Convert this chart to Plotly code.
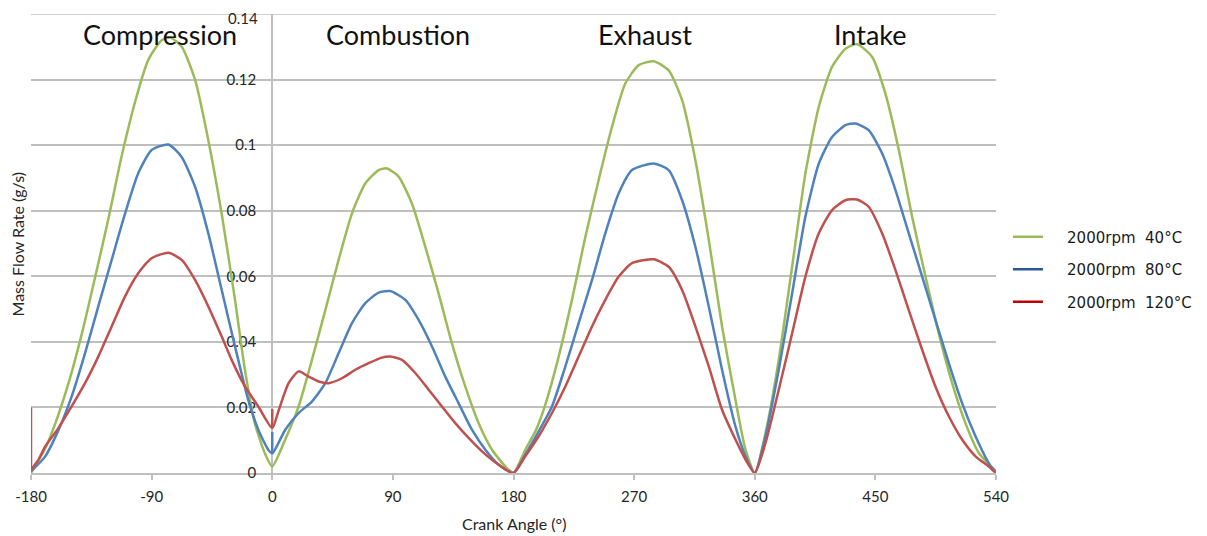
import plotly.graph_objects as go

# ---------------- data ----------------
angle_40 = [-180, -170, -162, -152, -142, -132, -122, -112.5, -102, -92.5, -82.5, -76, -67.5, -57.5, -47.7,
            -37.7, -27.8, -20.4, -13, -5.5, 0,
            9.7, 19.7, 29.6, 39.6, 49.5, 59.5, 69.4, 79.4, 85.6, 94.3, 104.2, 114.2, 124.1, 134, 144, 154,
            164, 173.9, 180,
            188.8, 196.3, 203.7, 213.7, 223.6, 233.6, 243.5, 253.5, 263.4, 273.4, 284.6, 295.8, 305.8,
            315.7, 325.7, 335.6, 345.6, 353.1, 360,
            368, 377.9, 387.9, 397.8, 407.8, 417.7, 427.7, 436.4, 447.6, 457.5, 467.5, 477.4, 487.4, 497.3,
            507.3, 517.2, 527.2, 540]
flow_40 = [0.0, 0.007, 0.015, 0.0274, 0.0426, 0.060, 0.078, 0.0964, 0.1137, 0.126, 0.132, 0.1328, 0.130,
           0.1198, 0.1015, 0.079, 0.0528, 0.0315, 0.0152, 0.006, 0.002,
           0.0102, 0.0203, 0.0345, 0.0497, 0.065, 0.0792, 0.0883, 0.0924, 0.0929, 0.0904, 0.0822, 0.069,
           0.0548, 0.0396, 0.0264, 0.0152, 0.0071, 0.002, 0.0,
           0.0071, 0.0127, 0.0208, 0.0355, 0.0528, 0.072, 0.0893, 0.1056, 0.1188, 0.1244, 0.1256, 0.1228,
           0.1137, 0.0954, 0.0711, 0.0447, 0.0223, 0.0071, 0.0,
           0.0122, 0.0345, 0.063, 0.0914, 0.1117, 0.1239, 0.1294, 0.1308, 0.1269, 0.1157, 0.0985, 0.0782,
           0.0599, 0.0426, 0.0274, 0.0152, 0.0061, 0.0005]

angle_80 = [-180, -169.5, -159.6, -149.7, -139.7, -129.8, -119.8, -109.9, -100, -90, -77.5, -67.6, -57.6,
            -47.7, -37.7, -27.8, -17.9, -10.4, -3, 0,
            9.7, 19.7, 29.6, 39.6, 49.5, 59.5, 69.4, 79.4, 88, 99.3, 109.2, 119.2, 129.1, 139, 149, 159,
            169, 180,
            188.8, 198.8, 208.7, 218.7, 228.6, 238.6, 248.5, 258.5, 268.4, 284.6, 295.8, 305.8, 315.7,
            325.7, 335.6, 345.6, 353.1, 360,
            368, 377.9, 387.9, 397.8, 407.8, 417.7, 427.7, 435.1, 445, 455, 465, 474.9, 484.9, 494.8,
            504.8, 514.7, 524.7, 534.6, 540]
flow_80 = [0.0005, 0.005, 0.013, 0.0233, 0.0365, 0.0508, 0.065, 0.079, 0.0914, 0.0985, 0.1002, 0.0964,
           0.0873, 0.0731, 0.0558, 0.0386, 0.0223, 0.0132, 0.0071, 0.006,
           0.0132, 0.0183, 0.0218, 0.0274, 0.0365, 0.0457, 0.0518, 0.055, 0.0555, 0.0528, 0.0467, 0.0386,
           0.0294, 0.0213, 0.0132, 0.0071, 0.0025, 0.0,
           0.0056, 0.0127, 0.0203, 0.0325, 0.0457, 0.0589, 0.0731, 0.0853, 0.0924, 0.0944, 0.0924, 0.0832,
           0.069, 0.0508, 0.0315, 0.0142, 0.0051, 0.0,
           0.0112, 0.0315, 0.0548, 0.0782, 0.0944, 0.1025, 0.1061, 0.1066, 0.1046, 0.0975, 0.0863, 0.0731,
           0.0599, 0.0467, 0.0335, 0.0213, 0.0112, 0.003, 0.0]

angle_120 = [-180, -174.5, -169.5, -159.6, -149.7, -139.7, -129.8, -119.8, -109.9, -100, -90, -77.5,
             -67.6, -57.6, -47.7, -37.7, -30.3, -20.4, -10.4, 0,
             4.7, 12.2, 19.7, 27.1, 34.6, 42, 52, 62, 71.9, 81.8, 88, 96.8, 106.7, 116.7, 126.6, 136.6,
             146.5, 156.5, 169, 180,
             188.8, 198.8, 208.7, 218.7, 228.6, 238.6, 248.5, 258.5, 268.4, 284.6, 295.8, 305.8, 315.7,
             325.7, 335.6, 345.6, 353.1, 360,
             368, 377.9, 387.9, 397.8, 407.8, 417.7, 427.7, 436.4, 445, 455, 465, 474.9, 484.9, 494.8,
             504.8, 514.7, 524.7, 534.6, 540]
flow_120 = [0.001, 0.004, 0.008, 0.0137, 0.0203, 0.0274, 0.0355, 0.0447, 0.0538, 0.0609, 0.0655,
            0.0672, 0.065, 0.0589, 0.0508, 0.0416, 0.0345, 0.0264, 0.0203, 0.0137,
            0.019, 0.0274, 0.031, 0.0294, 0.0279, 0.0274, 0.0289, 0.0315, 0.0335, 0.0352, 0.0355, 0.0345,
            0.0305, 0.0254, 0.0203, 0.0152, 0.0107, 0.0066, 0.0025, 0.0,
            0.0051, 0.0112, 0.0183, 0.0264, 0.0355, 0.0447, 0.0528, 0.0599, 0.064, 0.0652, 0.0629, 0.0558,
            0.0447, 0.0325, 0.0193, 0.0102, 0.0041, 0.0,
            0.0091, 0.0254, 0.0426, 0.0599, 0.0731, 0.0802, 0.0832, 0.0834, 0.0812, 0.0731, 0.0619, 0.0497,
            0.0376, 0.0264, 0.0173, 0.0102, 0.0051, 0.002, 0.0]

# short vertical spikes (solver restarts) seen in the reference
spike_80_angle = [0, 0]
spike_80_flow = [0.006, 0.0125]
spike_120_angle = [-180, -180, None, 0, 0]
spike_120_flow = [0.001, 0.02, None, 0.0137, 0.0195]

series_names = ["2000rpm 40°C", "2000rpm 80°C", "2000rpm 120°C"]
line_colors = ["#9bbb59", "#4f81bd", "#c0504d"]
legend_colors = ["#9bbb59", "#2a5699", "#c00000"]

phase_labels = ["Compression", "Combustion", "Exhaust", "Intake"]
phase_centers = [-84, 94, 278, 446]

x_ticks = [-180, -90, 0, 90, 180, 270, 360, 450, 540]
y_ticks = [0, 0.02, 0.04, 0.06, 0.08, 0.1, 0.12, 0.14]
y_tick_text = ["0", "0.02", "0.04", "0.06", "0.08", "0.1", "0.12", "0.14"]
y_max = 0.14

# ---------------- figure ----------------
fig = go.Figure()
angles = [angle_40, angle_80, angle_120]
flows = [flow_40, flow_80, flow_120]
for a, f, c in zip(angles, flows, line_colors):
    fig.add_trace(go.Scatter(x=a, y=f, mode="lines",
                             line=dict(color=c, width=2.5, shape="spline", smoothing=0.6),
                             showlegend=False, hoverinfo="skip", cliponaxis=False))
for a, f, c in [(spike_80_angle, spike_80_flow, line_colors[1]),
                (spike_120_angle, spike_120_flow, line_colors[2])]:
    fig.add_trace(go.Scatter(x=a, y=f, mode="lines", line=dict(color=c, width=2.5),
                             showlegend=False, hoverinfo="skip", cliponaxis=False))

NB = "\u00a0"
for i, (n, c) in enumerate(zip(series_names, legend_colors)):
    label = NB * 4 + n.replace(" ", NB + " ")
    fig.add_trace(go.Scatter(x=[None], y=[None], mode="lines", name=label,
                             line=dict(color=c, width=2.5), legendgroup=f"g{i}"))

grid = "#bfbfbf"
tick_font = dict(family="Lato, Open Sans, sans-serif", size=15, color="#262626")
# the page body adds an 8px offset, so the figure is 8px smaller and margins are shifted
fig.update_layout(
    width=1199, height=528,
    margin=dict(l=23, r=211, t=6, b=63, autoexpand=False),
    paper_bgcolor="white", plot_bgcolor="white",
    font=dict(family="Lato, Open Sans, sans-serif", size=15, color="#262626"),
    xaxis=dict(range=[-180, 540], tickvals=x_ticks, ticktext=[str(v) for v in x_ticks],
               showgrid=False, zeroline=False, showline=True, linecolor=grid, linewidth=2,
               ticks="outside", ticklen=5, tickcolor=grid, tickwidth=1.5,
               tickfont=tick_font, ticklabelstandoff=4, layer="below traces"),
    # the top label is drawn as an annotation so that it stays inside the page
    yaxis=dict(range=[0, y_max], tickvals=y_ticks[:-1], ticktext=y_tick_text[:-1],
               anchor="free", position=0.25, showgrid=True, gridcolor=grid, gridwidth=1.5,
               zeroline=False, showline=True, linecolor=grid, linewidth=2,
               ticks="", tickfont=tick_font, ticklabelstandoff=12, layer="below traces"),
    legend=dict(x=1.0124, y=0.550, xanchor="left", yanchor="top", xref="paper", yref="paper",
                font=dict(family="DejaVu Sans", size=15, color="#1a1a1a"),
                tracegroupgap=10, bgcolor="rgba(0,0,0,0)"),
)

# top gridline (at the upper end of the range)
fig.add_shape(type="line", xref="paper", yref="y", x0=0, x1=1, y0=y_max, y1=y_max,
              line=dict(color=grid, width=1.5), layer="below")
fig.add_annotation(x=0, y=y_ticks[-1], xref="x", yref="y", text=y_tick_text[-1], showarrow=False,
                   xanchor="right", yanchor="middle", xshift=-12, yshift=-4, font=tick_font)

for lbl, cx in zip(phase_labels, phase_centers):
    fig.add_annotation(x=cx, y=0.1339, xref="x", yref="y", text=lbl, showarrow=False,
                       xanchor="center", yanchor="middle",
                       font=dict(family="Lato, sans-serif", size=27, color="#111111"))

fig.add_annotation(x=0.5, y=0, xref="paper", yref="paper", text="Crank Angle (°)",
                   showarrow=False, xanchor="center", yanchor="middle", yshift=-50,
                   font=dict(family="Lato, sans-serif", size=16, color="#262626"))

fig.add_annotation(x=-0.0135, y=0.5, xref="paper", yref="paper", text="Mass Flow Rate (g/s)",
                   textangle=-90, showarrow=False, xanchor="center", yanchor="middle",
                   font=dict(family="Lato, sans-serif", size=16, color="#262626"))

fig.write_html("out.html")
